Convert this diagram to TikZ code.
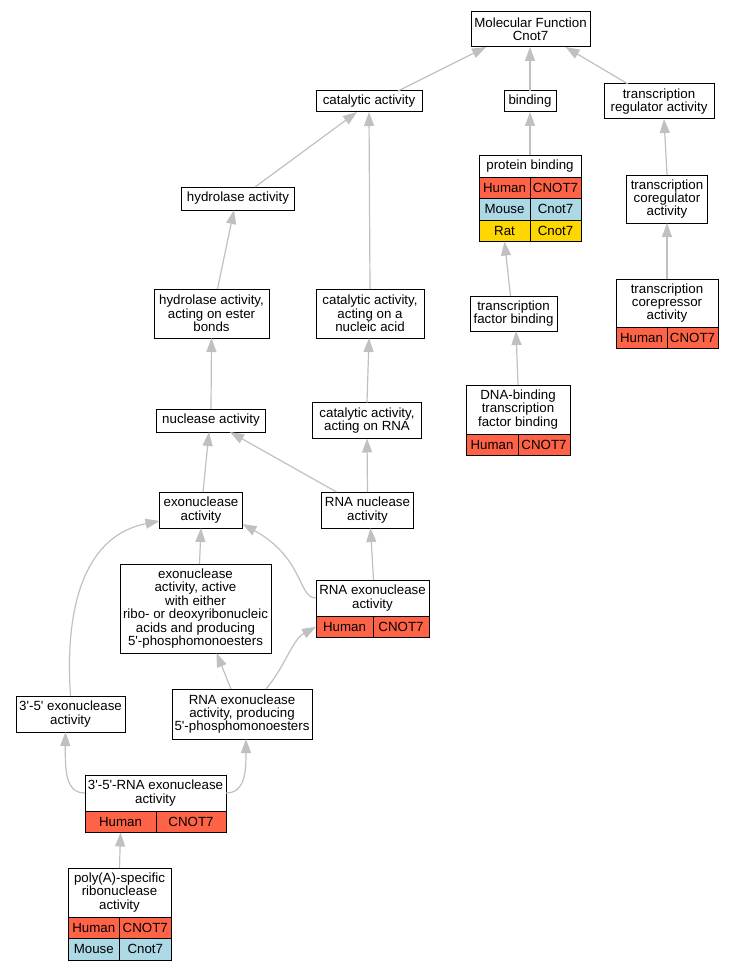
\documentclass[tikz,border=0pt]{standalone}
\usepackage{fontspec}
\setmainfont{Liberation Sans}
\usepackage{tikz}
\usetikzlibrary{positioning, arrows, arrows.meta}

\definecolor{tomato}{HTML}{FF6347}
\definecolor{lblue}{HTML}{ADD8E6}
\definecolor{gold}{HTML}{FFD700}
\definecolor{edgegray}{HTML}{C0C0C0}

\begin{document}
\begin{tikzpicture}[x=1pt, y=-1pt,
  term/.style={draw, fill=white, line width=1pt, outer sep=0pt, inner sep=1pt, align=center, font=\fontsize{13.3}{13.4}\selectfont},
  cell/.style={draw, line width=1pt, outer sep=0pt, inner sep=0pt, minimum height=21.5, anchor=north west, font=\fontsize{13.3}{13.4}\selectfont},
  isa/.style={draw=edgegray, line width=1.2pt, -{Triangle[length=14pt, width=10pt]}}]
\useasboundingbox (0,0) rectangle (733,971);

\node[term, minimum width=119, minimum height=35] (mf) at (530.5,29.5) {Molecular Function\\Cnot7};
\node[term, minimum width=106, minimum height=21] (cat) at (369,101.5) {catalytic activity};
\node[term, minimum width=52, minimum height=21] (bind) at (530,101.5) {binding};
\node[term, minimum width=110, minimum height=35] (treg) at (659,101.5) {transcription\\regulator activity};
\node[term, minimum width=113, minimum height=23] (hyd) at (238,198.5) {hydrolase activity};
\node[term, minimum width=81, minimum height=48] (tcoreg) at (667,199) {transcription\\coregulator\\activity};
\node[term, minimum width=115, minimum height=49] (hydest) at (211.5,313.5) {hydrolase activity,\\acting on ester\\bonds};
\node[term, minimum width=108, minimum height=49] (catna) at (370,313.5) {catalytic activity,\\acting on a\\nucleic acid};
\node[term, minimum width=87, minimum height=35] (tfb) at (513.5,313.5) {transcription\\factor binding};
\node[term, minimum width=109, minimum height=23] (nuc) at (211,420.5) {nuclease activity};
\node[term, minimum width=109, minimum height=36] (catrna) at (367,420.5) {catalytic activity,\\acting on RNA};
\node[term, minimum width=83, minimum height=36] (exo) at (201,510) {exonuclease\\activity};
\node[term, minimum width=92, minimum height=36] (rnanuc) at (367.5,510) {RNA nuclease\\activity};
\node[term, minimum width=151, minimum height=89] (exoact) at (195.5,608.5) {exonuclease\\activity, active\\with either\\ribo- or deoxyribonucleic\\acids and producing\\5\textquotesingle-phosphomonoesters};
\node[term, minimum width=109, minimum height=36] (exo35) at (70.5,714) {3\textquotesingle-5\textquotesingle{} exonuclease\\activity};
\node[term, minimum width=140, minimum height=50] (rnaexop) at (242,714) {RNA exonuclease\\activity, producing\\5\textquotesingle-phosphomonoesters};

\node[term, minimum width=102, minimum height=22] (pb) at (530,166) {protein binding};
\node[cell, fill=tomato, minimum width=51] (pb-h1) at (pb.south west) {Human};
\node[cell, fill=tomato, minimum width=51] (pb-h2) at (pb-h1.north east) {CNOT7};
\node[cell, fill=lblue, minimum width=51] (pb-m1) at (pb-h1.south west) {Mouse};
\node[cell, fill=lblue, minimum width=51] (pb-m2) at (pb-m1.north east) {Cnot7};
\node[cell, fill=gold, minimum width=51] (pb-r1) at (pb-m1.south west) {Rat};
\node[cell, fill=gold, minimum width=51] (pb-r2) at (pb-r1.north east) {Cnot7};

\node[term, minimum width=102, minimum height=48] (tcorep) at (667,303) {transcription\\corepressor\\activity};
\node[cell, fill=tomato, minimum width=51] (tcorep-h1) at (tcorep.south west) {Human};
\node[cell, fill=tomato, minimum width=51] (tcorep-h2) at (tcorep-h1.north east) {CNOT7};

\node[term, minimum width=104, minimum height=49] (dnatfb) at (518,409.5) {DNA-binding\\transcription\\factor binding};
\node[cell, fill=tomato, minimum width=52] (dnatfb-h1) at (dnatfb.south west) {Human};
\node[cell, fill=tomato, minimum width=52] (dnatfb-h2) at (dnatfb-h1.north east) {CNOT7};

\node[term, minimum width=113, minimum height=36] (rx) at (372.5,598) {RNA exonuclease\\activity};
\node[cell, fill=tomato, minimum width=57] (rx-h1) at (rx.south west) {Human};
\node[cell, fill=tomato, minimum width=56] (rx-h2) at (rx-h1.north east) {CNOT7};

\node[term, minimum width=141, minimum height=36] (rx35) at (155.5,793) {3\textquotesingle-5\textquotesingle-RNA exonuclease\\activity};
\node[cell, fill=tomato, minimum width=71] (rx35-h1) at (rx35.south west) {Human};
\node[cell, fill=tomato, minimum width=70] (rx35-h2) at (rx35-h1.north east) {CNOT7};

\node[term, minimum width=103, minimum height=49] (polya) at (119.5,892.5) {poly(A)-specific\\ribonuclease\\activity};
\node[cell, fill=tomato, minimum width=51.5] (polya-h1) at (polya.south west) {Human};
\node[cell, fill=tomato, minimum width=51.5] (polya-h2) at (polya-h1.north east) {CNOT7};
\node[cell, fill=lblue, minimum width=51.5] (polya-m1) at (polya-h1.south west) {Mouse};
\node[cell, fill=lblue, minimum width=51.5] (polya-m2) at (polya-m1.north east) {Cnot7};

\draw[isa] ([xshift=29]cat.north) -- ([xshift=-44.5]mf.south);
\draw[isa] (bind.north) -- (bind.north |- mf.south);
\draw[isa] ([xshift=-31]treg.north) -- ([xshift=35]mf.south);
\draw[isa] ([xshift=17]hyd.north) -- ([xshift=-12]cat.south);
\draw[isa] (catna.north) -- (cat.south);
\draw[isa] (pb.north) -- (bind.south);
\draw[isa] (tcoreg.north) -- ([xshift=5]treg.south);
\draw[isa] ([xshift=6]hydest.north) -- ([xshift=-4]hyd.south);
\draw[isa] ([xshift=-3]tfb.north) -- (pb-r1.south);
\draw[isa] (tcorep.north) -- (tcoreg.south);
\draw[isa] (nuc.north) -- (hydest.south);
\draw[isa] (catrna.north) -- ([xshift=-1]catna.south);
\draw[isa] (dnatfb.north) -- ([xshift=2.5]tfb.south);
\draw[isa] ([xshift=2]exo.north) -- ([xshift=-2]nuc.south);
\draw[isa] ([xshift=-31]rnanuc.north) -- ([xshift=19]nuc.south);
\draw[isa] (rnanuc.north) -- (catrna.south);
\draw[isa] ([xshift=4]exoact.north) -- (exo.south);
\draw[isa] (rx.west) .. controls (298,598) and (304,558) .. ([yshift=4]exo.south east);
\draw[isa] ([xshift=1]rx.north) -- ([xshift=3]rnanuc.south);
\draw[isa] (exo35.north) .. controls (64,600) and (88,535) .. ([yshift=-11]exo.west);
\draw[isa] ([xshift=-11]rnaexop.north) -- ([xshift=21]exoact.south);
\draw[isa] ([xshift=24]rnaexop.north) .. controls (286,665) and (292,640) .. (rx-h1.west);
\draw[isa] (rx35.west) .. controls (66,793) and (65,772) .. ([xshift=-5]exo35.south);
\draw[isa] (rx35.east) .. controls (245,793) and (246,772) .. ([xshift=4]rnaexop.south);
\draw[isa] (polya.north) -- (rx35-h1.south);
\end{tikzpicture}
\end{document}
